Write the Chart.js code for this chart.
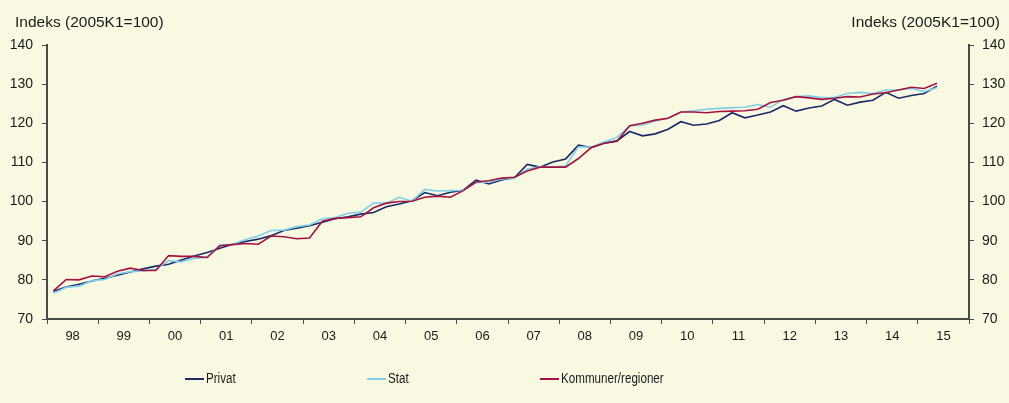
<!DOCTYPE html>
<html>
<head>
<meta charset="utf-8">
<script src="https://cdn.jsdelivr.net/npm/chart.js@4"></script>
<style>
  html, body { margin: 0; padding: 0; background: rgb(249, 248, 225); }
  #wrap { width: 1009px; height: 403px; position: relative; }
</style>
</head>
<body>
<div id="wrap"><canvas id="lonChart"></canvas></div>
<script>
// aarstal under x-aksen (en kategori pr. aar, fire kvartaler i hver)
var aar = ['98', '99', '00', '01', '02', '03', '04', '05', '06', '07', '08', '09', '10', '11', '12', '13', '14', '15'];

// kvartalsvise indeks, 1998K1 - 2015K2
var privat = [
  77.1, 78.2, 78.9, 79.7, 80.4, 81.2, 82.0, 82.8, 83.5, 84.0,
  85.1, 86.1, 87.0, 88.1, 89.1, 89.8, 90.4, 91.3, 92.6, 93.2,
  93.8, 94.7, 95.6, 96.1, 96.8, 97.2, 98.7, 99.4, 100.2, 102.3,
  101.5, 102.4, 102.9, 105.5, 104.5, 105.5, 106.1, 109.5, 108.8, 110.1,
  110.9, 114.4, 113.8, 114.9, 115.5, 117.9, 116.8, 117.3, 118.5, 120.4,
  119.5, 119.8, 120.7, 122.7, 121.4, 122.1, 122.9, 124.5, 123.1, 123.9,
  124.4, 126.1, 124.6, 125.4, 125.9, 127.9, 126.4, 127.1, 127.6, 129.5
];
var stat = [
  76.6, 78.1, 78.4, 79.8, 80.1, 81.5, 82.1, 82.3, 82.7, 84.9,
  84.6, 85.5, 85.8, 88.9, 89.1, 90.3, 91.2, 92.6, 92.7, 93.6,
  94.0, 95.6, 95.9, 97.0, 97.3, 99.6, 99.6, 101.1, 100.1, 103.1,
  102.7, 102.8, 102.9, 104.8, 105.0, 105.8, 105.9, 108.3, 108.9, 108.9,
  109.1, 114.0, 113.9, 115.2, 116.4, 119.3, 119.6, 120.6, 121.3, 122.9,
  123.2, 123.6, 123.8, 124.0, 124.1, 124.8, 124.1, 126.1, 126.8, 127.0,
  126.6, 126.6, 127.6, 127.9, 127.6, 128.5, 128.5, 128.9, 128.1, 129.1
];
var kommuner = [
  77.2, 80.1, 80.0, 81.0, 80.8, 82.2, 83.0, 82.4, 82.4, 86.2,
  86.0, 86.0, 85.7, 88.7, 89.0, 89.3, 89.1, 91.2, 91.0, 90.5,
  90.7, 95.0, 95.7, 95.9, 96.1, 98.4, 99.6, 100.0, 100.1, 101.1,
  101.4, 101.1, 102.8, 105.0, 105.3, 106.0, 106.2, 107.8, 108.8, 108.8,
  108.8, 111.0, 113.8, 114.9, 115.4, 119.4, 120.0, 120.8, 121.3, 122.9,
  122.9, 122.7, 123.0, 123.1, 123.2, 123.6, 125.3, 125.9, 126.8, 126.5,
  126.1, 126.4, 126.8, 126.7, 127.5, 127.8, 128.5, 129.2, 128.9, 130.2
];

var yMin = 70, yMax = 140, yStep = 10;
var enhed = 'Indeks (2005K1=100)';

var baggrund = 'rgb(249, 248, 225)';
var aksefarve = '#4a4a4a';
var tekstfarve = '#1a1a1a';
var font = '"Liberation Sans", Arial, sans-serif';

//#### kvartal nr i -> midt i kvartalet paa x-aksen
function tilPunkter(serie) {
  return serie.map(function(v, i) {
    return { x: i + 0.5, y: v };
  });
}

//#### baggrund, enhedstekster og forklaring
var pyntPlugin = {
  id: 'pynt',
  beforeDraw: function(chart) {
    var ctx = chart.ctx;
    ctx.save();
    ctx.fillStyle = baggrund;
    ctx.fillRect(0, 0, chart.width, chart.height);
    ctx.restore();
  },
  afterDraw: function(chart) {
    var ctx = chart.ctx;
    ctx.save();
    ctx.fillStyle = tekstfarve;
    ctx.font = '15.5px ' + font;
    ctx.textBaseline = 'alphabetic';
    ctx.textAlign = 'left';
    ctx.fillText(enhed, 15, 27);
    ctx.textAlign = 'right';
    ctx.fillText(enhed, 1000, 27);

    // forklaring: streg + navn (teksten lidt sammentrykt som i originalen)
    var legendX = [185, 367, 540];
    var legendY = 379;
    var rk = ['Privat', 'Stat', 'Kommuner/regioner'];
    ctx.font = '14px ' + font;
    ctx.textAlign = 'left';
    ctx.textBaseline = 'middle';
    rk.forEach(function(navn, n) {
      var ds = chart.data.datasets.filter(function(d) { return d.label === navn; })[0];
      ctx.strokeStyle = ds.borderColor;
      ctx.lineWidth = 2;
      ctx.beginPath();
      ctx.moveTo(legendX[n], legendY);
      ctx.lineTo(legendX[n] + 19, legendY);
      ctx.stroke();
      ctx.save();
      ctx.translate(legendX[n] + 21, legendY);
      ctx.scale(0.83, 1);
      ctx.fillStyle = tekstfarve;
      ctx.fillText(navn, 0, 0);
      ctx.restore();
    });
    ctx.restore();
  }
};

function yAkse(position, bredde) {
  return {
    type: 'linear',
    position: position,
    min: yMin,
    max: yMax,
    afterFit: function(scale) { scale.width = bredde; },
    ticks: {
      stepSize: yStep,
      padding: position === 'left' ? 9 : 8,
      color: tekstfarve,
      font: { family: font, size: 14 }
    },
    grid: {
      drawOnChartArea: false,
      drawTicks: true,
      tickLength: 5,
      tickColor: aksefarve,
      lineWidth: 1
    },
    border: { display: true, color: aksefarve, width: 2 }
  };
}

var ctx = document.getElementById('lonChart');

var chart = new Chart(ctx, {
  type: 'line',
  data: {
    datasets: [{
      label: 'Privat',
      data: tilPunkter(privat),
      borderColor: '#1b2a6b',
      borderWidth: 1.6,
      order: 2
    },
    {
      label: 'Stat',
      data: tilPunkter(stat),
      borderColor: '#7fcfea',
      borderWidth: 1.6,
      order: 1
    },
    {
      label: 'Kommuner/regioner',
      data: tilPunkter(kommuner),
      borderColor: '#a5123f',
      borderWidth: 1.6,
      order: 0
    }]
  },
  options: {
    responsive: true,
    maintainAspectRatio: false,
    animation: false,
    layout: { padding: { top: 45, left: 0, right: 0, bottom: 0 } },
    elements: {
      point: { radius: 0, hoverRadius: 0 },
      line: { tension: 0, fill: false }
    },
    plugins: {
      legend: { display: false },
      tooltip: { enabled: false }
    },
    scales: {
      x: {
        type: 'linear',
        min: 0,
        max: aar.length * 4,
        afterFit: function(scale) { scale.height = 84; },
        afterBuildTicks: function(scale) {
          var t = [];
          for (var v = 0; v <= aar.length * 4; v += 2) t.push({ value: v });
          scale.ticks = t;
        },
        ticks: {
          autoSkip: false,
          maxRotation: 0,
          minRotation: 0,
          padding: 5,
          color: tekstfarve,
          font: { family: font, size: 13 },
          callback: function(value) {
            if (value % 4 === 2) return aar[(value - 2) / 4];
            return '';
          }
        },
        grid: {
          drawOnChartArea: false,
          drawTicks: true,
          tickLength: 5,
          lineWidth: 1,
          tickColor: function(c) {
            if (c.tick && c.tick.value % 4 === 0) return aksefarve;
            return 'rgba(0,0,0,0)';
          }
        },
        border: { display: true, color: aksefarve, width: 2 }
      },
      y: yAkse('left', 47),
      y2: yAkse('right', 40)
    }
  },
  plugins: [pyntPlugin]
});
</script>
</body>
</html>
